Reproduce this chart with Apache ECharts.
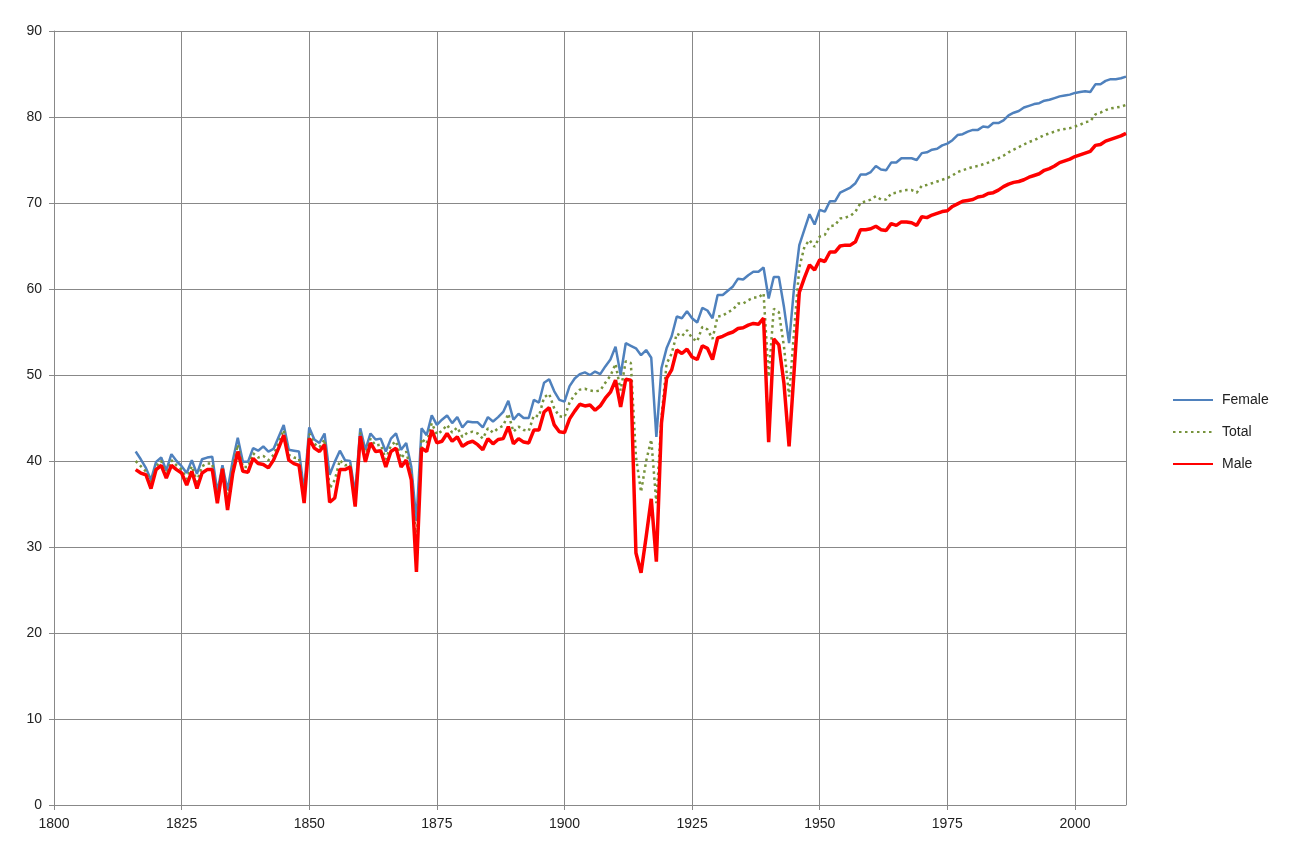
<!DOCTYPE html>
<html>
<head>
<meta charset="utf-8">
<title>Life expectancy</title>
<script src="https://cdn.jsdelivr.net/npm/echarts@6/dist/echarts.min.js"></script>
<style>
  html, body { margin: 0; padding: 0; background: #fff; }
  #chart { width: 1295px; height: 841px; }
</style>
</head>
<body>
<div id="chart"></div>
<script>
// first year of every series below, one value per year up to 2010
var startYear = 1816;

var female = [
  41.1, 40.2, 39.2, 37.8, 39.9, 40.4, 38.9, 40.8, 40.0, 39.4,
  38.6, 40.1, 38.5, 40.2, 40.4, 40.5, 36.4, 39.5, 36.6, 40.0,
  42.7, 39.9, 39.9, 41.5, 41.2, 41.7, 41.1, 41.4, 42.8, 44.2,
  41.3, 41.2, 41.1, 36.5, 43.9, 42.5, 42.1, 43.2, 38.4, 39.9,
  41.2, 40.1, 40.0, 36.2, 43.8, 41.3, 43.2, 42.5, 42.6, 41.1,
  42.6, 43.2, 41.3, 42.1, 39.3, 33.0, 43.8, 43.0, 45.3, 44.2,
  44.8, 45.3, 44.4, 45.1, 43.9, 44.6, 44.5, 44.5, 43.9, 45.1,
  44.6, 45.1, 45.7, 47.0, 44.8, 45.5, 45.0, 45.0, 47.1, 46.8,
  49.1, 49.5, 48.1, 47.1, 46.9, 48.7, 49.6, 50.1, 50.3, 50.0,
  50.4, 50.1, 51.0, 51.8, 53.3, 50.0, 53.7, 53.4, 53.1, 52.3,
  52.9, 52.0, 42.8, 50.8, 53.1, 54.5, 56.8, 56.6, 57.4, 56.6,
  56.1, 57.8, 57.5, 56.6, 59.3, 59.3, 59.8, 60.3, 61.2, 61.1,
  61.6, 62.0, 62.0, 62.5, 58.9, 61.4, 61.4, 57.9, 53.7, 60.3,
  65.1, 66.9, 68.7, 67.5, 69.2, 69.0, 70.2, 70.2, 71.2, 71.5,
  71.8, 72.3, 73.3, 73.3, 73.6, 74.3, 73.9, 73.8, 74.7, 74.7,
  75.2, 75.2, 75.2, 75.0, 75.8, 75.9, 76.2, 76.3, 76.7, 76.9,
  77.3, 77.9, 78.0, 78.3, 78.5, 78.5, 78.9, 78.8, 79.3, 79.3,
  79.6, 80.2, 80.5, 80.7, 81.1, 81.3, 81.5, 81.6, 81.9, 82.0,
  82.2, 82.4, 82.5, 82.6, 82.8, 82.9, 83.0, 82.9, 83.8, 83.8,
  84.2, 84.4, 84.4, 84.5, 84.7
];

var total = [
  40.0, 39.4, 38.8, 37.3, 39.4, 40.0, 38.4, 40.1, 39.5, 39.0,
  37.9, 39.4, 37.6, 39.4, 39.7, 39.7, 35.7, 39.3, 35.4, 39.2,
  41.9, 39.3, 39.3, 40.9, 40.4, 40.6, 40.1, 40.7, 42.1, 43.6,
  40.7, 40.4, 40.3, 35.8, 43.2, 42.0, 41.6, 42.5, 36.8, 37.8,
  40.1, 39.5, 39.6, 35.4, 43.3, 40.6, 42.6, 41.8, 41.9, 40.2,
  41.8, 42.3, 40.3, 41.1, 38.5, 30.2, 42.6, 42.0, 44.4, 43.1,
  43.5, 44.2, 43.3, 43.9, 42.8, 43.3, 43.4, 43.2, 42.6, 43.8,
  43.3, 43.8, 44.1, 45.5, 43.4, 44.0, 43.6, 43.5, 45.3, 45.2,
  47.4, 47.8, 46.1, 45.2, 45.1, 46.8, 47.7, 48.3, 48.4, 48.2,
  48.1, 48.2, 49.1, 49.9, 51.3, 48.2, 51.6, 51.4, 40.5, 36.4,
  40.0, 42.5, 35.1, 45.0, 51.3, 52.5, 54.8, 54.5, 55.2, 54.3,
  53.9, 55.6, 55.3, 54.2, 56.8, 56.9, 57.3, 57.6, 58.3, 58.3,
  58.7, 59.0, 59.0, 59.5, 49.8, 57.7, 57.3, 53.3, 47.5, 55.3,
  62.5, 64.9, 65.7, 64.9, 66.1, 66.3, 67.3, 67.4, 68.2, 68.3,
  68.5, 69.0, 70.0, 70.2, 70.4, 70.8, 70.4, 70.4, 71.1, 71.2,
  71.4, 71.5, 71.5, 71.2, 72.0, 72.1, 72.3, 72.5, 72.7, 72.9,
  73.2, 73.6, 73.8, 74.0, 74.2, 74.3, 74.5, 74.7, 75.0, 75.2,
  75.5, 75.9, 76.2, 76.5, 76.8, 77.1, 77.3, 77.6, 77.9, 78.1,
  78.3, 78.5, 78.6, 78.7, 78.9, 79.1, 79.4, 79.5, 80.3, 80.5,
  80.8, 81.0, 81.1, 81.2, 81.4
];

var male = [
  39.0, 38.6, 38.4, 36.8, 39.0, 39.5, 38.0, 39.5, 39.0, 38.6,
  37.2, 38.8, 36.8, 38.6, 39.0, 39.0, 35.1, 39.1, 34.3, 38.5,
  41.1, 38.8, 38.7, 40.3, 39.7, 39.6, 39.2, 40.1, 41.5, 43.0,
  40.1, 39.7, 39.5, 35.1, 42.6, 41.5, 41.1, 41.9, 35.2, 35.7,
  39.0, 39.0, 39.3, 34.7, 42.9, 39.9, 42.1, 41.1, 41.2, 39.3,
  41.1, 41.5, 39.3, 40.1, 37.8, 27.1, 41.5, 41.1, 43.6, 42.1,
  42.3, 43.2, 42.3, 42.8, 41.7, 42.1, 42.3, 41.9, 41.3, 42.6,
  42.0, 42.5, 42.6, 44.0, 42.0, 42.6, 42.2, 42.1, 43.6, 43.6,
  45.7, 46.2, 44.2, 43.4, 43.3, 44.9, 45.8, 46.6, 46.4, 46.5,
  45.9, 46.4, 47.3, 48.0, 49.4, 46.3, 49.5, 49.4, 29.3, 27.0,
  31.2, 35.6, 28.3, 44.4, 49.6, 50.6, 52.9, 52.5, 53.0, 52.1,
  51.8, 53.4, 53.1, 51.8, 54.3, 54.5, 54.8, 55.0, 55.4, 55.5,
  55.8, 56.0, 55.9, 56.6, 42.2, 54.2, 53.5, 49.0, 41.7, 50.6,
  59.6, 61.3, 62.8, 62.2, 63.4, 63.2, 64.3, 64.3, 65.0, 65.1,
  65.1, 65.5, 66.9, 66.9, 67.0, 67.3, 66.9, 66.8, 67.6, 67.4,
  67.8, 67.8, 67.7, 67.4, 68.4, 68.3, 68.6, 68.8, 69.0, 69.1,
  69.6, 69.9, 70.2, 70.3, 70.4, 70.7, 70.8, 71.1, 71.2, 71.5,
  71.9, 72.2, 72.4, 72.5, 72.7, 73.0, 73.2, 73.4, 73.8, 74.0,
  74.3, 74.7, 74.9, 75.1, 75.4, 75.6, 75.8, 76.0, 76.7, 76.8,
  77.2, 77.4, 77.6, 77.8, 78.1
];

function pairs (values) {
  var out = [];
  for (var i = 0; i < values.length; i++) {
    out.push([startYear + i, values[i]]);
  }
  return out;
}

var myChart = echarts.init(document.getElementById('chart'));
var gridColor = '#888';
var labelStyle = { color: '#222', fontSize: 14, fontFamily: 'Liberation Sans, Arial, sans-serif' };

var option = {
  backgroundColor: '#fff',
  animation: false,
  grid: { left: 54, right: 169, top: 31, bottom: 36, containLabel: false },
  legend: {
    orient: 'vertical',
    left: 1172,
    top: 393,
    padding: 0,
    itemWidth: 40,
    itemHeight: 14,
    itemGap: 18,
    itemStyle: { opacity: 0 },
    textStyle: { color: '#222', fontSize: 14, fontFamily: 'Liberation Sans, Arial, sans-serif', padding: [0, 0, 0, 4] },
    data: ['Female', 'Total', 'Male']
  },
  xAxis: {
    type: 'value',
    min: 1800,
    max: 2010,
    interval: 25,
    axisLine: { show: true, lineStyle: { color: gridColor, width: 1 } },
    axisTick: { show: true, length: 5, lineStyle: { color: gridColor } },
    axisLabel: Object.assign({ margin: 12, showMaxLabel: false, formatter: function (v) { return String(v); } }, labelStyle),
    splitLine: { show: true, lineStyle: { color: gridColor, width: 1 } }
  },
  yAxis: {
    type: 'value',
    min: 0,
    max: 90,
    interval: 10,
    axisLine: { show: true, lineStyle: { color: gridColor, width: 1 } },
    axisTick: { show: true, length: 5, lineStyle: { color: gridColor } },
    axisLabel: Object.assign({ margin: 12 }, labelStyle),
    splitLine: { show: true, lineStyle: { color: gridColor, width: 1 } }
  },
  series: [{
    name: 'Female',
    type: 'line',
    symbol: 'none',
    lineStyle: { color: '#4F81BD', width: 2.5 },
    itemStyle: { color: '#4F81BD' },
    data: pairs(female)
  }, {
    name: 'Total',
    type: 'line',
    symbol: 'none',
    lineStyle: { color: '#77933C', width: 2.5, type: [2.5, 3.5] },
    itemStyle: { color: '#77933C' },
    data: pairs(total)
  }, {
    name: 'Male',
    type: 'line',
    symbol: 'none',
    lineStyle: { color: '#FF0000', width: 3.5 },
    itemStyle: { color: '#FF0000' },
    data: pairs(male)
  }]
};
myChart.setOption(option);
</script>
</body>
</html>
